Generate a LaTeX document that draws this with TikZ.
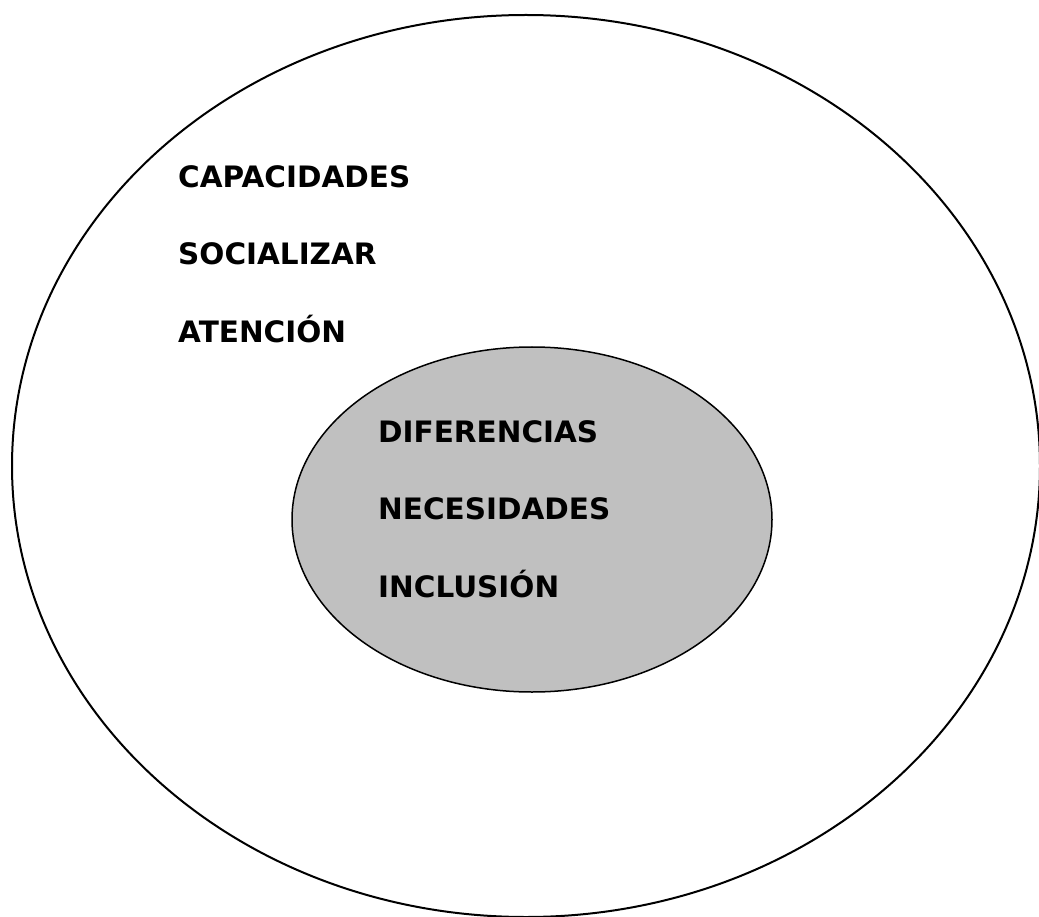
\documentclass[tikz,border=0pt]{standalone}
\usepackage{fontspec}
\setmainfont{DejaVu Sans}
\usetikzlibrary{shapes.geometric}
\definecolor{innergray}{RGB}{192,192,192}
\tikzset{
  outerring/.style={draw=black, line width=2pt},
  innerring/.style={draw=black, line width=1.5pt, fill=innergray},
  word/.style={anchor=base west, inner sep=0pt, font=\fontsize{29.5}{31}\selectfont\bfseries}
}
\begin{document}
\begin{tikzpicture}[x=1pt,y=-1pt]
\useasboundingbox (0,0) rectangle (1039,917);
\clip (0,0) rectangle (1039,917);
\fill[white] (0,0) rectangle (1039,917);
\draw[outerring] (526,466) ellipse [x radius=514, y radius=451];
\draw[innerring] (532,519.5) ellipse [x radius=240, y radius=172.5];
\node[word] (cap) at (178,188) {CAPACIDADES};
\node[word] (soc) at (178,265) {SOCIALIZAR};
\node[word] (ate) at (178,342) {ATENCIÓN};
\node[word] (dif) at (378,442) {DIFERENCIAS};
\node[word] (nec) at (378,519) {NECESIDADES};
\node[word] (inc) at (378,597) {INCLUSIÓN};
\end{tikzpicture}
\end{document}
